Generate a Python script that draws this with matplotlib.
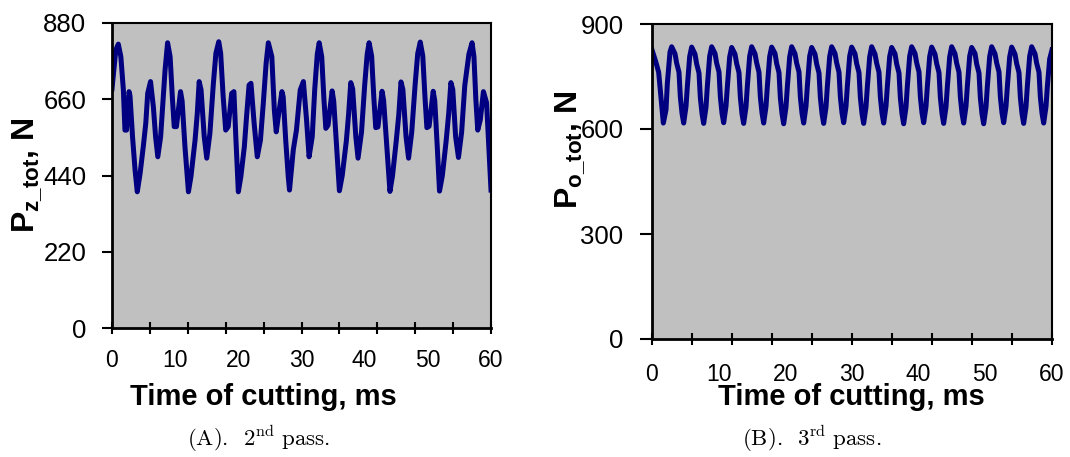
import matplotlib
matplotlib.use("Agg")
import matplotlib.pyplot as plt
import numpy as np

plt.rcParams['font.family'] = 'Liberation Sans'
plt.rcParams['mathtext.fontset'] = 'custom'
plt.rcParams['mathtext.bf'] = 'Liberation Sans:bold'
plt.rcParams['mathtext.rm'] = 'cmr10'

# (A) 2nd pass, total force Pz_tot
pz_t = [0.0, 0.6, 1.0, 1.4, 1.8, 2.05, 2.3, 2.7, 2.85, 3.25, 3.65, 4.0, 4.45, 4.95, 5.35, 5.65,
        6.1, 6.55, 6.9, 7.25, 7.7, 8.05, 8.4, 8.8, 9.2, 9.55, 9.85, 10.2, 10.85, 11.1, 11.55,
        12.1, 12.5, 13.15, 13.5, 13.8, 14.1, 14.6, 15.0, 15.5, 16.05, 16.45, 16.9, 17.2, 17.6,
        18.0, 18.4, 18.95, 19.3, 19.6, 20.0, 20.4, 20.95, 21.3, 21.7, 22.0, 22.5, 23.0, 23.5,
        23.95, 24.4, 24.75, 25.3, 25.7, 26.0, 26.4, 26.9, 27.1, 27.5, 27.9, 28.1, 28.7, 29.2,
        29.8, 30.3, 30.8, 31.2, 31.7, 32.1, 32.5, 32.8, 33.2, 33.55, 33.85, 34.2, 34.85, 35.1,
        35.55, 36.0, 36.45, 37.1, 37.45, 37.8, 38.1, 38.6, 38.95, 39.5, 40.0, 40.4, 40.7, 41.1,
        41.45, 41.75, 42.1, 42.75, 43.0, 43.5, 44.0, 44.4, 45.0, 45.4, 45.75, 46.05, 46.55,
        46.95, 47.45, 48.0, 48.4, 48.8, 49.2, 49.55, 49.85, 50.2, 50.85, 51.1, 51.5, 51.85,
        52.3, 52.9, 53.3, 53.65, 53.95, 54.4, 54.85, 55.35, 55.85, 56.5, 57.0, 57.3, 57.6,
        57.9, 58.3, 58.8, 59.3, 60.0]
pz_v = [690, 802, 819, 783, 687, 571, 571, 682, 670, 552, 456, 393, 446, 523, 591, 677,
        711, 638, 552, 494, 552, 648, 744, 823, 783, 667, 581, 581, 682, 655, 523,
        393, 437, 542, 619, 711, 687, 552, 490, 562, 706, 793, 826, 793, 667,
        571, 581, 677, 682, 552, 393, 437, 523, 610, 701, 706, 591, 494, 542,
        648, 764, 823, 783, 629, 566, 620, 682, 667, 542, 437, 398, 514, 571,
        687, 711, 600, 494, 552, 690, 790, 823, 783, 660, 576, 585, 684, 655,
        525, 396, 440, 540, 615, 708, 690, 552, 490, 565, 700, 790, 823, 785,
        665, 578, 580, 683, 657, 525, 394, 438, 540, 615, 710, 688, 552,
        490, 565, 705, 792, 825, 785, 665, 578, 582, 683, 655, 520, 395,
        440, 540, 618, 708, 688, 552, 492, 565, 700, 790, 823, 783, 660,
        571, 600, 682, 650, 398]

# (B) 3rd pass, total force Po_tot
po_t = [0.0, 0.6, 1.0, 1.4, 1.7, 2.1, 2.3, 2.7,
        2.95, 3.45, 3.7, 4.05, 4.25, 4.5, 4.75, 5.1, 5.3, 5.65,
        5.95, 6.45, 6.7, 7.05, 7.25, 7.5, 7.75, 8.1, 8.3, 8.65,
        8.95, 9.45, 9.7, 10.05, 10.25, 10.5, 10.75, 11.1, 11.3, 11.65,
        11.95, 12.45, 12.7, 13.05, 13.25, 13.5, 13.75, 14.1, 14.3, 14.65,
        14.95, 15.45, 15.7, 16.05, 16.25, 16.5, 16.75, 17.1, 17.3, 17.65,
        17.95, 18.45, 18.7, 19.05, 19.25, 19.5, 19.75, 20.1, 20.3, 20.65,
        20.95, 21.45, 21.7, 22.05, 22.25, 22.5, 22.75, 23.1, 23.3, 23.65,
        23.95, 24.45, 24.7, 25.05, 25.25, 25.5, 25.75, 26.1, 26.3, 26.65,
        26.95, 27.45, 27.7, 28.05, 28.25, 28.5, 28.75, 29.1, 29.3, 29.65,
        29.95, 30.45, 30.7, 31.05, 31.25, 31.5, 31.75, 32.1, 32.3, 32.65,
        32.95, 33.45, 33.7, 34.05, 34.25, 34.5, 34.75, 35.1, 35.3, 35.65,
        35.95, 36.45, 36.7, 37.05, 37.25, 37.5, 37.75, 38.1, 38.3, 38.65,
        38.95, 39.45, 39.7, 40.05, 40.25, 40.5, 40.75, 41.1, 41.3, 41.65,
        41.95, 42.45, 42.7, 43.05, 43.25, 43.5, 43.75, 44.1, 44.3, 44.65,
        44.95, 45.45, 45.7, 46.05, 46.25, 46.5, 46.75, 47.1, 47.3, 47.65,
        47.95, 48.45, 48.7, 49.05, 49.25, 49.5, 49.75, 50.1, 50.3, 50.65,
        50.95, 51.45, 51.7, 52.05, 52.25, 52.5, 52.75, 53.1, 53.3, 53.65,
        53.95, 54.45, 54.7, 55.05, 55.25, 55.5, 55.75, 56.1, 56.3, 56.65,
        56.95, 57.45, 57.7, 58.05, 58.25, 58.5, 58.75, 59.1, 59.3, 59.65,
        60.0]
po_v = [826, 790, 762, 680, 617, 655, 730, 820,
        835, 815, 788, 762, 692, 645, 617, 664, 721, 807,
        834, 814, 786, 760, 690, 644, 616, 662, 722, 808,
        835, 816, 788, 763, 693, 645, 618, 665, 720, 806,
        833, 814, 787, 761, 691, 643, 616, 663, 722, 808,
        835, 815, 789, 762, 692, 646, 617, 664, 721, 807,
        834, 816, 787, 761, 690, 644, 615, 663, 720, 806,
        835, 815, 788, 763, 692, 645, 617, 665, 722, 808,
        833, 814, 786, 760, 691, 644, 616, 662, 721, 807,
        835, 816, 789, 762, 693, 646, 618, 664, 722, 808,
        834, 815, 787, 761, 691, 644, 616, 663, 720, 806,
        835, 814, 788, 762, 692, 645, 617, 665, 721, 807,
        833, 815, 786, 760, 690, 643, 615, 662, 722, 808,
        835, 816, 789, 763, 693, 646, 618, 664, 721, 807,
        834, 814, 787, 761, 691, 644, 616, 663, 720, 806,
        835, 815, 788, 762, 692, 645, 617, 665, 722, 808,
        833, 816, 786, 760, 690, 643, 615, 662, 721, 807,
        835, 815, 789, 763, 693, 646, 618, 664, 720, 806,
        834, 814, 787, 761, 691, 644, 616, 663, 722, 808,
        835, 815, 788, 762, 692, 645, 617, 664, 721, 800,
        826]

x_labels = [0, 10, 20, 30, 40, 50, 60]
pz_yticks = [0, 220, 440, 660, 880]
po_yticks = [0, 300, 600, 900]
xlabel = 'Time of cutting, ms'


def style(ax, ymax, yticks, ylab, ylab_xy, xlab_xy, xpad, ytick_len, ytick_pad):
    ax.set_facecolor('#c0c0c0')
    ax.set_xlim(0, 60)
    ax.set_ylim(0, ymax)
    ax.xaxis.remove_overlapping_locs = False
    ax.set_xticks(x_labels)
    ax.set_xticks(np.linspace(0, 60, 11), minor=True)
    ax.tick_params(axis='x', which='major', length=0, labelsize=16.5, pad=xpad)
    ax.tick_params(axis='x', which='minor', direction='inout', length=9, width=1.5)
    ax.set_yticks(yticks)
    ax.tick_params(axis='y', direction='out', length=ytick_len, width=1.5,
                   labelsize=18.5, pad=ytick_pad)
    for s in ['left', 'bottom']:
        ax.spines[s].set_linewidth(2)
    for s in ['top', 'right']:
        ax.spines[s].set_linewidth(1.5)
    ax.set_ylabel(ylab, fontsize=23, fontweight='bold')
    ax.yaxis.set_label_coords(*ylab_xy)
    ax.set_xlabel(xlabel, fontsize=21, fontweight='bold')
    ax.xaxis.set_label_coords(*xlab_xy)


fig = plt.figure(figsize=(10.7, 4.57), dpi=100)
ax1 = fig.add_axes([112 / 1070, 1 - 328 / 457, 379 / 1070, 305 / 457])
ax2 = fig.add_axes([652 / 1070, 1 - 339 / 457, 400 / 1070, 315 / 457])

ax1.plot(pz_t, pz_v, color='#000080', lw=3.6, solid_joinstyle='round')
ax2.plot(po_t, po_v, color='#000080', lw=3.6, solid_joinstyle='round')

style(ax1, 880, pz_yticks, r'P$_{\mathbf{z\_tot}}$, N', (-0.18, 0.5), (0.40, -0.18),
      15, 7.5, 11)
style(ax2, 900, po_yticks, r'P$_{\mathbf{o\_tot}}$, N', (-0.162, 0.6), (0.4975, -0.14),
      17, 8.5, 12)

fig.text(258 / 1070, 1 - 439 / 457, r'(A).  2$^{\mathrm{nd}}$ pass.', family='cmr10',
         fontsize=16.5, ha='center', va='center')
fig.text(812 / 1070, 1 - 439 / 457, r'(B).  3$^{\mathrm{rd}}$ pass.', family='cmr10',
         fontsize=16.5, ha='center', va='center')

fig.savefig('out.png', dpi=100)
